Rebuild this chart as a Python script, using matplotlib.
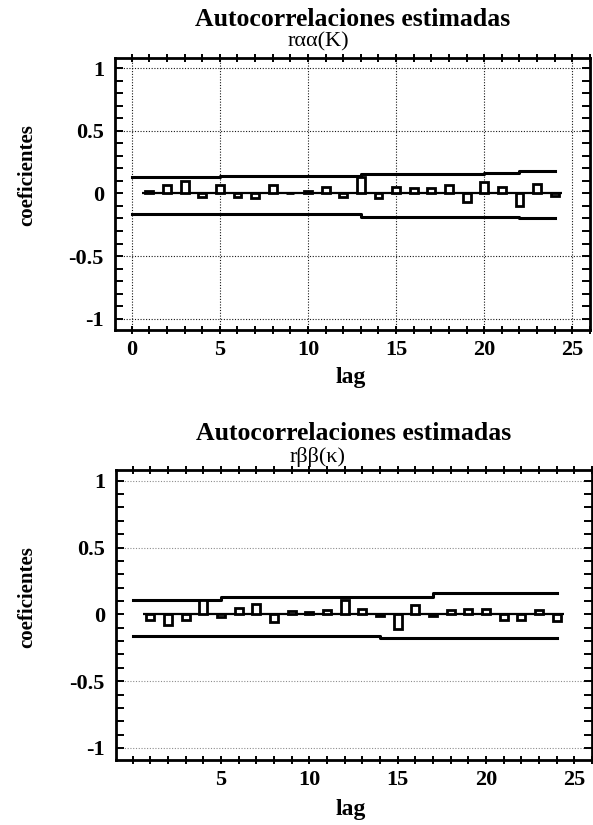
import matplotlib
matplotlib.use("Agg")
import matplotlib.pyplot as plt
from matplotlib.ticker import MultipleLocator, FixedLocator

# ---------------- data ----------------
lags = list(range(1, 25))
acf_alpha = [0.02, 0.07, 0.10, -0.03, 0.07, -0.03, -0.04, 0.07, 0.0, 0.02,
             0.05, -0.03, 0.13, -0.04, 0.05, 0.045, 0.045, 0.065, -0.07, 0.09,
             0.05, -0.10, 0.075, -0.02]
acf_beta = [-0.04, -0.08, -0.04, 0.11, -0.02, 0.05, 0.08, -0.06, 0.025, 0.02,
            0.03, 0.11, 0.04, -0.01, -0.11, 0.07, -0.01, 0.03, 0.04, 0.04,
            -0.04, -0.04, 0.03, -0.05]
band_lags = list(range(0, 25))
upper_alpha = [0.13, 0.13, 0.13, 0.13, 0.13, 0.14, 0.14, 0.14, 0.14, 0.14,
               0.14, 0.14, 0.14, 0.155, 0.155, 0.155, 0.155, 0.155, 0.155, 0.155,
               0.16, 0.16, 0.18, 0.18, 0.18]
lower_alpha = [-0.165, -0.165, -0.165, -0.165, -0.165, -0.165, -0.165, -0.165, -0.165, -0.165,
               -0.165, -0.165, -0.165, -0.185, -0.185, -0.185, -0.185, -0.185, -0.185, -0.185,
               -0.19, -0.19, -0.195, -0.195, -0.195]
upper_beta = [0.11, 0.11, 0.11, 0.11, 0.11, 0.13, 0.13, 0.13, 0.13, 0.13,
              0.13, 0.13, 0.13, 0.13, 0.13, 0.13, 0.13, 0.16, 0.16, 0.16,
              0.16, 0.16, 0.16, 0.16, 0.16]
lower_beta = [-0.16, -0.16, -0.16, -0.16, -0.16, -0.16, -0.16, -0.16, -0.16, -0.16,
              -0.16, -0.16, -0.16, -0.16, -0.18, -0.18, -0.18, -0.18, -0.18, -0.18,
              -0.18, -0.18, -0.18, -0.18, -0.18]
xticks_top = [0, 5, 10, 15, 20, 25]
xticks_bottom = [5, 10, 15, 20, 25]
yticks = [-1, -0.5, 0, 0.5, 1]
ytick_labels = ["-1", "-0.5", "0", "0.5", "1"]
title = "Autocorrelaciones estimadas"
subtitles = ["rαα(K)", "rββ(κ)"]

plt.rcParams['font.family'] = ['Liberation Serif', 'DejaVu Serif']
plt.rcParams['font.weight'] = 'bold'

W, H = 593, 825
fig = plt.figure(figsize=(W / 100, H / 100), dpi=100)


def px_axes(l, t, r, b):
    return [l / W, 1 - b / H, (r - l) / W, (b - t) / H]


panels = [
    dict(rect=px_axes(115, 58, 590, 330), vals=acf_alpha, up=upper_alpha, lo=lower_alpha,
         xt=xticks_top, grid_alpha=0.9, vgrid=True, sub=subtitles[0],
         title_y=20, sub_y=42, ylab_y=175, xlab_y=377),
    dict(rect=px_axes(116, 470, 592, 760), vals=acf_beta, up=upper_beta, lo=lower_beta,
         xt=xticks_bottom, grid_alpha=0.45, vgrid=False, sub=subtitles[1],
         title_y=434, sub_y=457, ylab_y=597, xlab_y=809),
]

for p in panels:
    ax = fig.add_axes(p['rect'])
    ax.set_xlim(-0.95, 26.0)
    ax.set_ylim(-1.09, 1.08)
    # grid
    for gy in [-1, -0.5, 0.5, 1]:
        ax.axhline(gy, color='black', lw=0.8, ls=(0, (1, 1.5)), alpha=p['grid_alpha'], zorder=1)
    if p['vgrid']:
        for gx in xticks_top:
            ax.axvline(gx, color='black', lw=0.8, ls=(0, (1, 1.5)), alpha=0.9, zorder=1)
    # zero line
    ax.hlines(0, 0.6, 24.4, color='black', lw=1.6, zorder=2)
    # bands
    ax.step(band_lags, p['up'], where='post', color='black', lw=2.2, zorder=2)
    ax.step(band_lags, p['lo'], where='post', color='black', lw=2.2, zorder=2)
    # bars
    ax.bar(lags, p['vals'], width=0.45, facecolor='white', edgecolor='black',
           linewidth=2.0, zorder=3)
    # ticks
    ax.xaxis.set_major_locator(FixedLocator(p['xt']))
    ax.xaxis.set_minor_locator(MultipleLocator(1))
    ax.yaxis.set_major_locator(FixedLocator(yticks))
    ax.set_yticklabels(ytick_labels)
    ax.yaxis.set_minor_locator(MultipleLocator(0.1))
    ax.tick_params(axis='x', which='both', direction='inout', top=True, bottom=True,
                   length=6, width=1.4, labelsize=16, pad=4)
    ax.tick_params(axis='y', which='both', direction='in', left=True, right=True,
                   length=6, width=1.4, labelsize=16, pad=8)
    for lab in ax.get_xticklabels() + ax.get_yticklabels():
        lab.set_fontweight('bold')
    for s in ax.spines.values():
        s.set_linewidth(2)
    cx = (p['rect'][0] + p['rect'][2] / 2)
    fig.text(cx, 1 - p['title_y'] / H, title, ha='center', va='center',
             fontsize=18.5, fontweight='bold')
    fig.text(318 / W, 1 - p['sub_y'] / H, p['sub'], ha='center', va='center',
             fontsize=16, fontweight='normal')
    fig.text(27 / W, 1 - p['ylab_y'] / H, "coeficientes", ha='center', va='center',
             rotation=90, fontsize=15, fontweight='bold')
    fig.text(351 / W, 1 - p['xlab_y'] / H, "lag", ha='center', va='center',
             fontsize=17, fontweight='bold')

fig.savefig("out.png", dpi=100)
